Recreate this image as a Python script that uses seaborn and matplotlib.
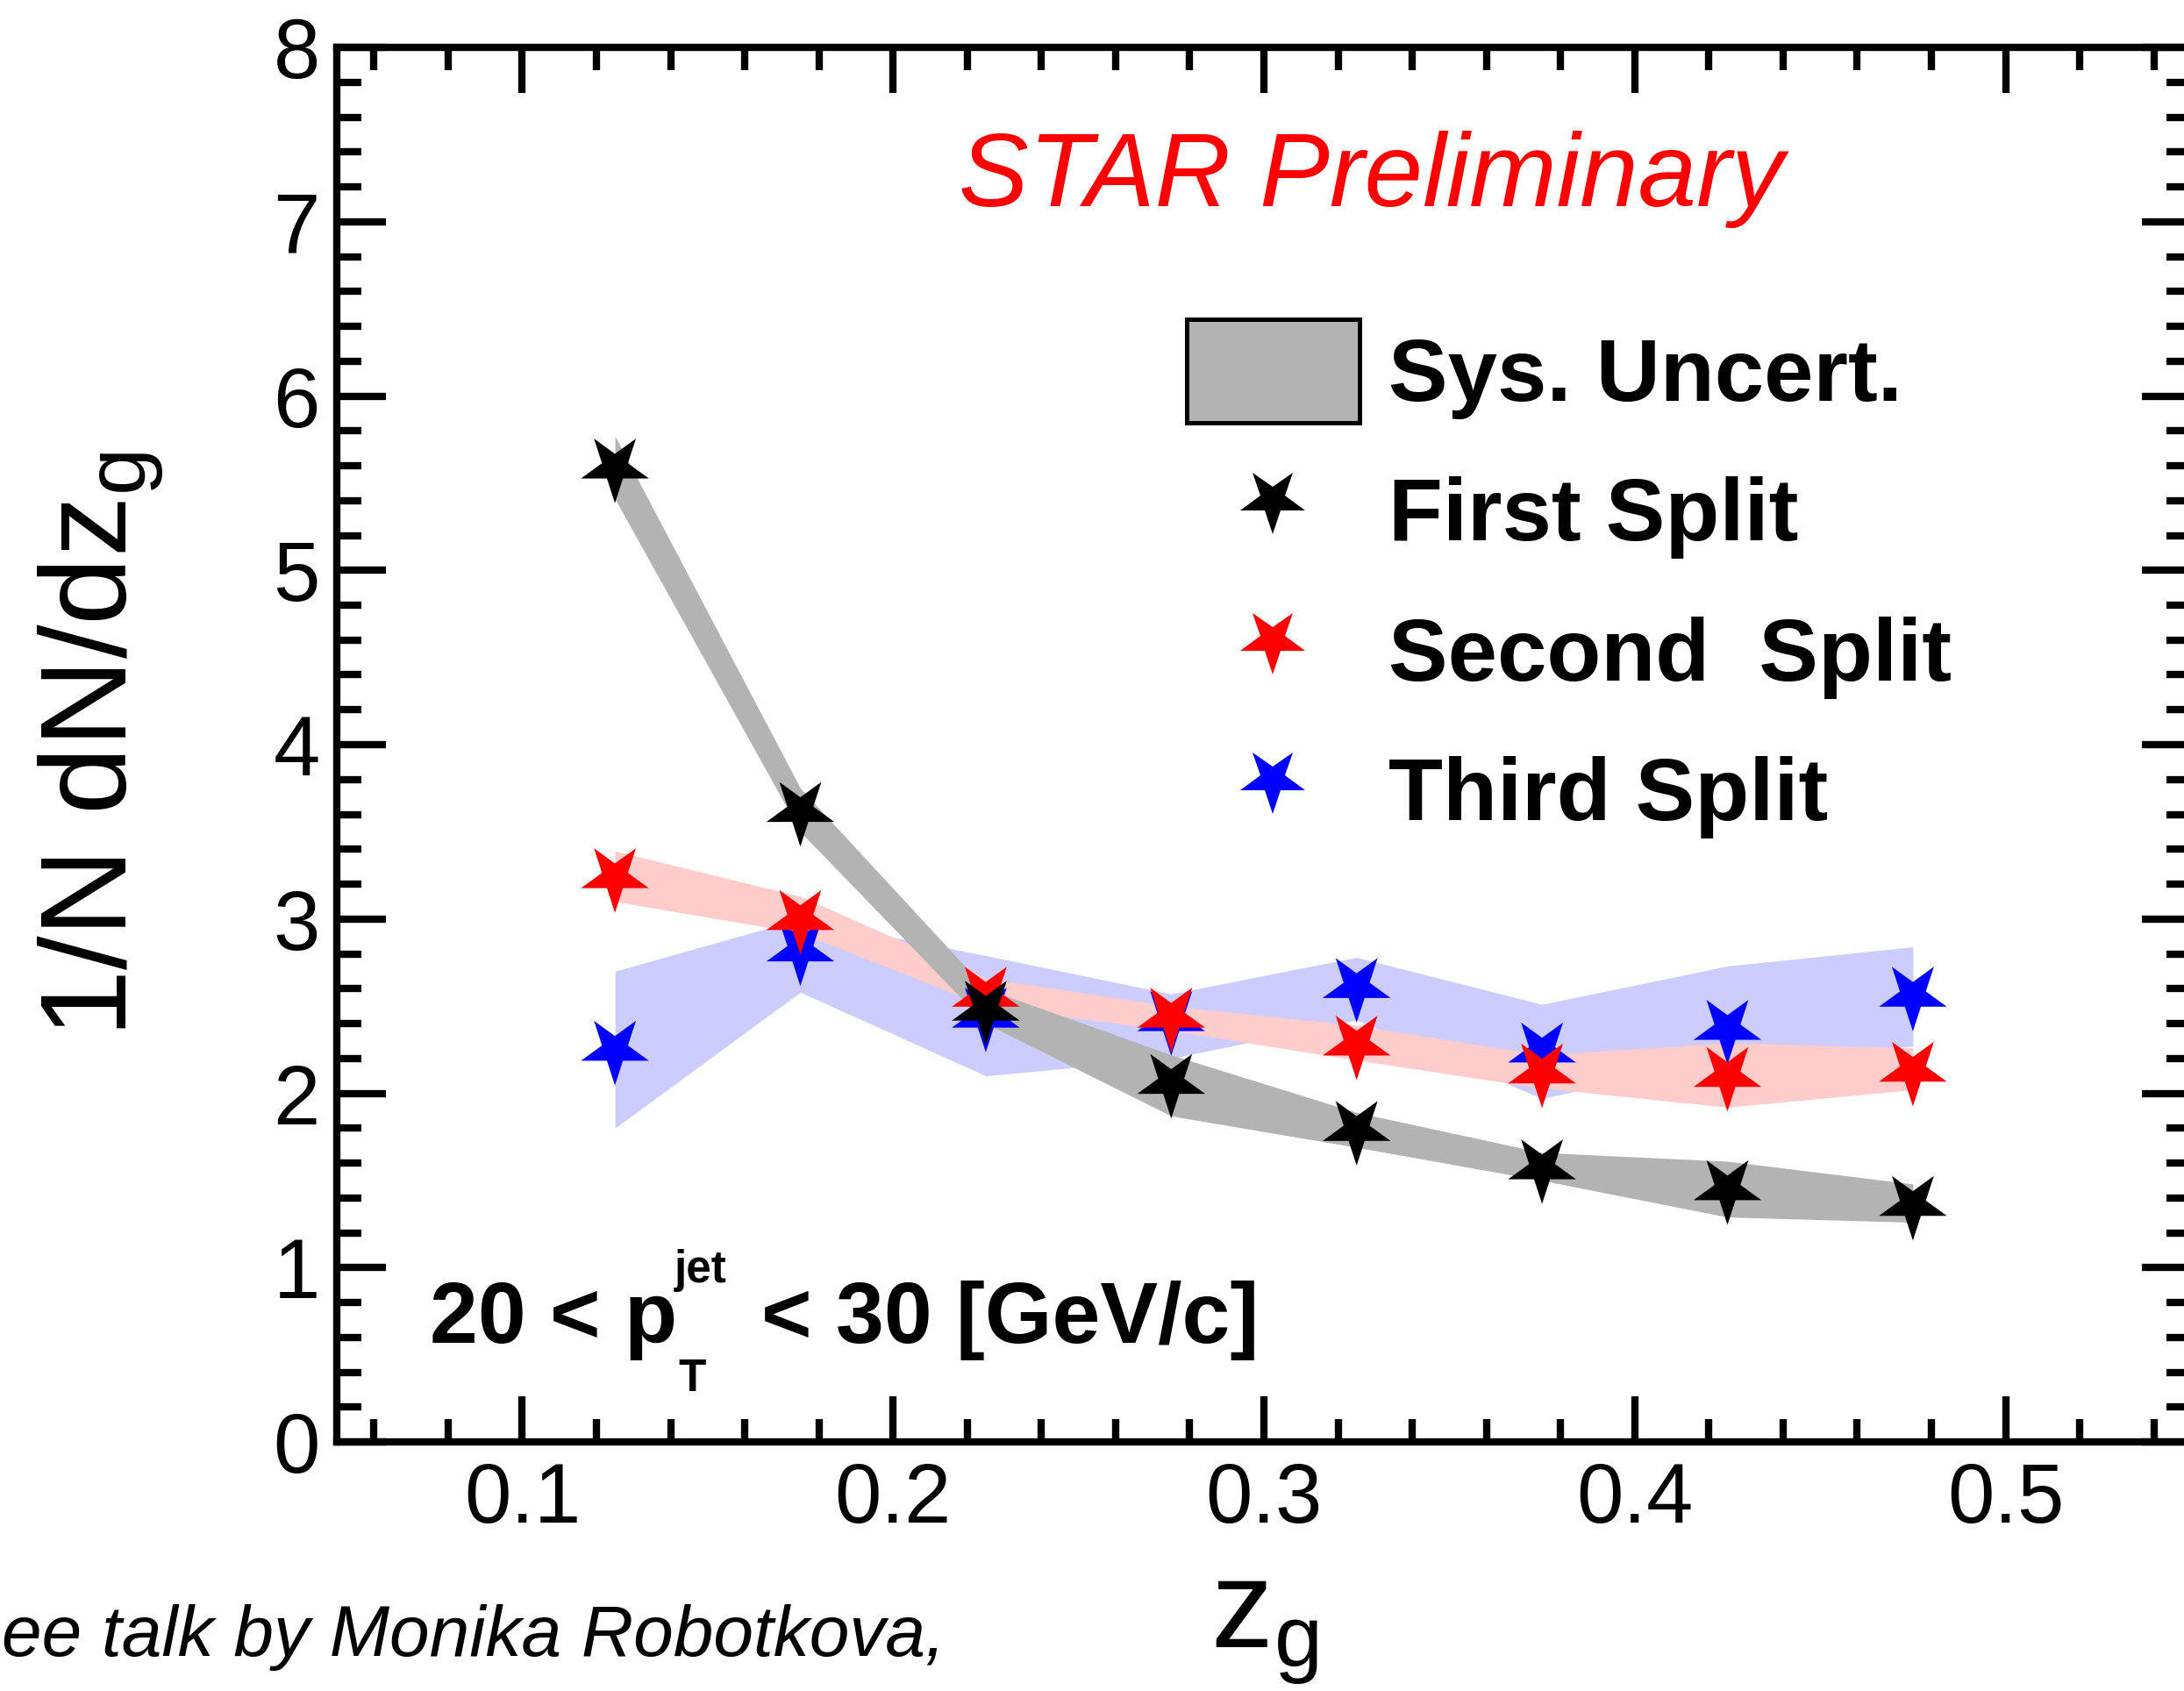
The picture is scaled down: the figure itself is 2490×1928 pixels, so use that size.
import matplotlib
matplotlib.use("Agg")
import matplotlib.pyplot as plt
import pandas as pd
import seaborn as sns
from matplotlib.markers import MarkerStyle
from matplotlib.transforms import Affine2D
from matplotlib.ticker import FixedLocator, MultipleLocator, FixedFormatter
from matplotlib.patches import Patch
from matplotlib.lines import Line2D

# ---------------- data ----------------
zg = [0.125, 0.175, 0.225, 0.275, 0.325, 0.375, 0.425, 0.475]

first_split = [5.59, 3.62, 2.48, 2.06, 1.79, 1.57, 1.45, 1.36]
first_sys_hi = [5.77, 3.75, 2.60, 2.22, 1.89, 1.66, 1.61, 1.48]
first_sys_lo = [5.41, 3.50, 2.40, 1.87, 1.69, 1.50, 1.29, 1.26]

second_split = [3.24, 3.00, 2.56, 2.44, 2.28, 2.12, 2.10, 2.13]
second_sys_hi = [3.39, 3.13, 2.66, 2.50, 2.39, 2.22, 2.29, 2.26]
second_sys_lo = [3.10, 2.92, 2.50, 2.36, 2.19, 2.03, 1.92, 2.02]

third_split = [2.25, 2.82, 2.44, 2.42, 2.61, 2.24, 2.37, 2.56]
third_sys_hi = [2.70, 3.00, 2.79, 2.57, 2.78, 2.51, 2.73, 2.84]
third_sys_lo = [1.80, 2.58, 2.10, 2.20, 2.42, 1.97, 2.20, 2.27]

series_names = ["Third Split", "Second  Split", "First Split"]
legend_labels = ["Sys. Uncert.", "First Split", "Second  Split", "Third Split"]

x_ticks = [0.1, 0.2, 0.3, 0.4, 0.5]
x_tick_labels = ["0.1", "0.2", "0.3", "0.4", "0.5"]
y_ticks = [0, 1, 2, 3, 4, 5, 6, 7, 8]
y_tick_labels = ["0", "1", "2", "3", "4", "5", "6", "7", "8"]

# ---------------- style ----------------
sns.set_style("ticks", rc={"axes.edgecolor": "black", "text.color": "black",
                           "xtick.color": "black", "ytick.color": "black",
                           "axes.labelcolor": "black"})
plt.rcParams["font.family"] = ["Liberation Sans", "DejaVu Sans"]
plt.rcParams["mathtext.default"] = "regular"

W, H = 2490, 1928
fig = plt.figure(figsize=(W / 100, H / 100), dpi=100)
ax_l, ax_r, ax_t, ax_b = 384, 2498, 54, 1644
ax = fig.add_axes([ax_l / W, 1 - ax_b / H, (ax_r - ax_l) / W, (ax_b - ax_t) / H])


def ax_xy(px, py):
    """pixel position in the figure -> axes fraction"""
    return (px - ax_l) / (ax_r - ax_l), (ax_b - py) / (ax_b - ax_t)


col_black, col_red, col_blue = "#000000", "#ff0000", "#0000ff"
band_gray, band_red, band_blue = "#b3b3b3", "#ffcccc", "#ccccff"

# systematic bands
ax.fill_between(zg, third_sys_lo, third_sys_hi, color=band_blue, linewidth=0, zorder=1)
ax.fill_between(zg, second_sys_lo, second_sys_hi, color=band_red, linewidth=0, zorder=2)
ax.fill_between(zg, first_sys_lo, first_sys_hi, color=band_gray, linewidth=0, zorder=3)

# points
star = MarkerStyle("*", transform=Affine2D().rotate_deg(180))
df = pd.concat([
    pd.DataFrame({"zg": zg, "val": third_split, "split": series_names[0]}),
    pd.DataFrame({"zg": zg, "val": second_split, "split": series_names[1]}),
    pd.DataFrame({"zg": zg, "val": first_split, "split": series_names[2]}),
], ignore_index=True)
sns.scatterplot(data=df, x="zg", y="val", hue="split", hue_order=series_names,
                palette=[col_blue, col_red, col_black], marker=star, s=58.6 ** 2,
                linewidth=0, edgecolor="none", legend=False, ax=ax, zorder=4)

# axes
ax.set_xlim(0.05, 0.55)
ax.set_ylim(0, 8)
ax.xaxis.set_major_locator(FixedLocator(x_ticks))
ax.xaxis.set_major_formatter(FixedFormatter(x_tick_labels))
ax.xaxis.set_minor_locator(MultipleLocator(0.02))
ax.yaxis.set_major_locator(FixedLocator(y_ticks))
ax.yaxis.set_major_formatter(FixedFormatter(y_tick_labels))
ax.yaxis.set_minor_locator(MultipleLocator(0.2))
for sp in ax.spines.values():
    sp.set_linewidth(6)
    sp.set_color("black")
ax.tick_params(axis="x", which="major", direction="in", length=37.4, width=6,
               top=True, bottom=True, labelsize=69, pad=16)
ax.tick_params(axis="x", which="minor", direction="in", length=18.7, width=6,
               top=True, bottom=True)
ax.tick_params(axis="y", which="major", direction="in", length=40, width=6,
               left=True, right=True, labelsize=69, pad=13.7)
ax.tick_params(axis="y", which="minor", direction="in", length=20, width=6,
               left=True, right=True)

ax.set_xlabel("z$_g$", fontsize=102)
ax.xaxis.set_label_coords(0.5, ax_xy(0, 1877)[1])
ax.xaxis.label.set_va("baseline")
ax.set_ylabel("1/N dN/dz$_g$", fontsize=100)
ax.yaxis.set_label_coords(ax_xy(144, 0)[0], 0.5)
ax.yaxis.label.set_va("baseline")

# texts
ax.text(*ax_xy(1093, 235), "STAR Preliminary", transform=ax.transAxes,
        color="red", fontsize=86, style="italic", ha="left", va="baseline")

# 20 < p_T^jet < 30 [GeV/c]  (stacked sub/superscript as in the original)
ax.text(*ax_xy(490, 1531), "20 < p", transform=ax.transAxes,
        fontsize=71, fontweight="bold", ha="left", va="baseline")
ax.text(*ax_xy(769, 1462), "jet", transform=ax.transAxes,
        fontsize=37, fontweight="bold", ha="left", va="baseline")
ax.text(*ax_xy(773, 1586), "T", transform=ax.transAxes,
        fontsize=37, fontweight="bold", ha="left", va="baseline")
ax.text(*ax_xy(868, 1531), "< 30 [GeV/c]", transform=ax.transAxes,
        fontsize=71, fontweight="bold", ha="left", va="baseline")

fig.text(2 / W, 1 - 1888 / H, "ee talk by Monika Robotkova,",
         fontsize=59, style="italic", ha="left", va="baseline")

# legend
handles = [
    Patch(facecolor=band_gray, edgecolor="black", linewidth=3.6),
    Line2D([], [], linestyle="", marker=star, markersize=56, color=col_black, markeredgewidth=0),
    Line2D([], [], linestyle="", marker=star, markersize=56, color=col_red, markeredgewidth=0),
    Line2D([], [], linestyle="", marker=star, markersize=56, color=col_blue, markeredgewidth=0),
]
ax.legend(handles, legend_labels, loc="upper left",
          bbox_to_anchor=ax_xy(1353, 364),
          frameon=False, borderpad=0, borderaxespad=0,
          handlelength=1.94, handleheight=1.414, handletextpad=0.33,
          labelspacing=0.41, prop={"size": 73, "weight": "bold"}, numpoints=1)

fig.savefig("out.png", dpi=100)
